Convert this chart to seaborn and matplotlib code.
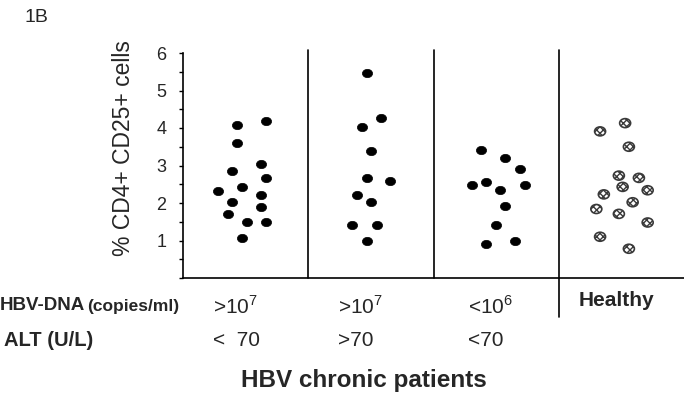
import matplotlib
matplotlib.use("Agg")
import matplotlib.pyplot as plt
from matplotlib.markers import MarkerStyle
from matplotlib.transforms import Affine2D
import seaborn as sns
import pandas as pd

# ---- data ----
groups = ["HBV >10^7 / ALT <70", "HBV >10^7 / ALT >70", "HBV <10^6 / ALT <70", "Healthy"]
g1_values = [4.08, 4.19, 3.59, 3.05, 2.85, 2.67, 2.43, 2.33, 2.22, 2.02, 1.90, 1.71, 1.49, 1.50, 1.07]
g2_values = [5.47, 4.26, 4.02, 3.39, 2.67, 2.59, 2.22, 2.03, 1.42, 1.42, 0.99]
g3_values = [3.41, 3.19, 2.92, 2.47, 2.55, 2.36, 2.47, 1.93, 1.42, 0.91, 0.99]
healthy_values = [4.13, 3.91, 3.50, 2.73, 2.67, 2.43, 2.34, 2.23, 2.02, 1.84, 1.71, 1.48, 1.10, 0.78]
# horizontal scatter of each point inside its column (as drawn)
g1_jitter = [-0.07, 0.16, -0.07, 0.12, -0.11, 0.16, -0.03, -0.22, 0.12, -0.11, 0.12, -0.14, 0.01, 0.16, -0.03]
g2_jitter = [-0.03, 0.08, -0.07, 0.0, -0.03, 0.15, -0.11, 0.0, -0.15, 0.05, -0.03]
g3_jitter = [-0.12, 0.07, 0.19, -0.19, -0.08, 0.03, 0.23, 0.07, 0.0, -0.08, 0.15]
healthy_jitter = [0.03, -0.17, 0.06, -0.02, 0.14, 0.01, 0.21, -0.14, 0.09, -0.2, -0.02, 0.21, -0.17, 0.06]
dna_labels = [r">10$^{7}$", r">10$^{7}$", r"<10$^{6}$"]
alt_labels = ["<  70", ">70", "<70"]
yticks = [1, 2, 3, 4, 5, 6]

rows = []
for gi, (vals, jit) in enumerate([(g1_values, g1_jitter), (g2_values, g2_jitter),
                                   (g3_values, g3_jitter), (healthy_values, healthy_jitter)]):
    for v, j in zip(vals, jit):
        rows.append({"group": groups[gi], "x": gi + j, "value": v,
                     "healthy": gi == 3})
df = pd.DataFrame(rows)

sns.set_style("white")
plt.rcParams["font.family"] = ["Liberation Sans", "DejaVu Sans"]
plt.rcParams["mathtext.fontset"] = "custom"
plt.rcParams["mathtext.rm"] = "Liberation Sans"

fig = plt.figure(figsize=(6.84, 3.95), dpi=100)
ax = fig.add_axes([183 / 684, 1 - 278 / 395, 1 - 183 / 684, (278 - 53) / 395])

ell = MarkerStyle("o", transform=Affine2D().scale(1.22, 1.0))
sns.scatterplot(data=df[~df.healthy], x="x", y="value", ax=ax, marker=ell,
                s=36, color="black", edgecolor="black", linewidth=0.5, legend=False)
hd = df[df.healthy]
ax.scatter(hd["x"], hd["value"], marker=ell, s=42, facecolor="white",
           edgecolor="#3a3a3a", hatch="xxxxx", linewidth=1.2, zorder=3)

ax.set_xlim(-0.5, 3.5)
ax.set_ylim(0, 6)
ax.set_xticks([])
ax.set_yticks([i * 0.5 for i in range(13)])
ax.set_yticklabels(["" if (i % 2 or i == 0) else str(i // 2) for i in range(13)], fontsize=13)
ax.tick_params(axis="y", direction="out", length=3, width=1, color="black", pad=9, left=True)
for s in ["top", "right"]:
    ax.spines[s].set_visible(False)
ax.spines["left"].set_color("black")
ax.spines["bottom"].set_color("black")
ax.spines["left"].set_linewidth(1.2)
ax.spines["bottom"].set_linewidth(1.2)
ax.set_xlabel("")
ax.set_ylabel("")

for xs in [0.5, 1.5]:
    ax.axvline(xs, ymin=0, ymax=1.012, color="black", lw=1.2, clip_on=False)
ax.axvline(2.5, ymin=-0.175, ymax=1.012, color="black", lw=1.2, clip_on=False)

fig.text(124 / 684, 1 - 148 / 395, "% CD4+ CD25+ cells", rotation=90,
         ha="center", va="center", fontsize=16.5)
fig.text(25 / 684, 1 - 17 / 395, "1B", ha="left", va="center", fontsize=14)

# row labels beneath
fig.text(0 / 684, 1 - 306 / 395, "HBV-DNA", ha="left", va="center", fontsize=13.5,
         fontweight="bold")
fig.text(87 / 684, 1 - 307 / 395, "(copies/ml)", ha="left", va="center", fontsize=12.5,
         fontweight="bold")
fig.text(4 / 684, 1 - 341 / 395, "ALT (U/L)", ha="left", va="center", fontsize=14.5,
         fontweight="bold")
for i, (d, a) in enumerate(zip(dna_labels, alt_labels)):
    xpix = [213, 338, 468][i]
    fig.text(xpix / 684, 1 - 307 / 395, d, ha="left", va="center", fontsize=15)
    fig.text(xpix / 684, 1 - 341 / 395, a, ha="left", va="center", fontsize=15)
fig.text(616 / 684, 1 - 300 / 395, "Healthy", ha="center", va="center", fontsize=15,
         fontweight="bold")
fig.text(364 / 684, 1 - 381 / 395, "HBV chronic patients", ha="center", va="center",
         fontsize=17.5, fontweight="bold")

fig.savefig("out.png", dpi=100)
